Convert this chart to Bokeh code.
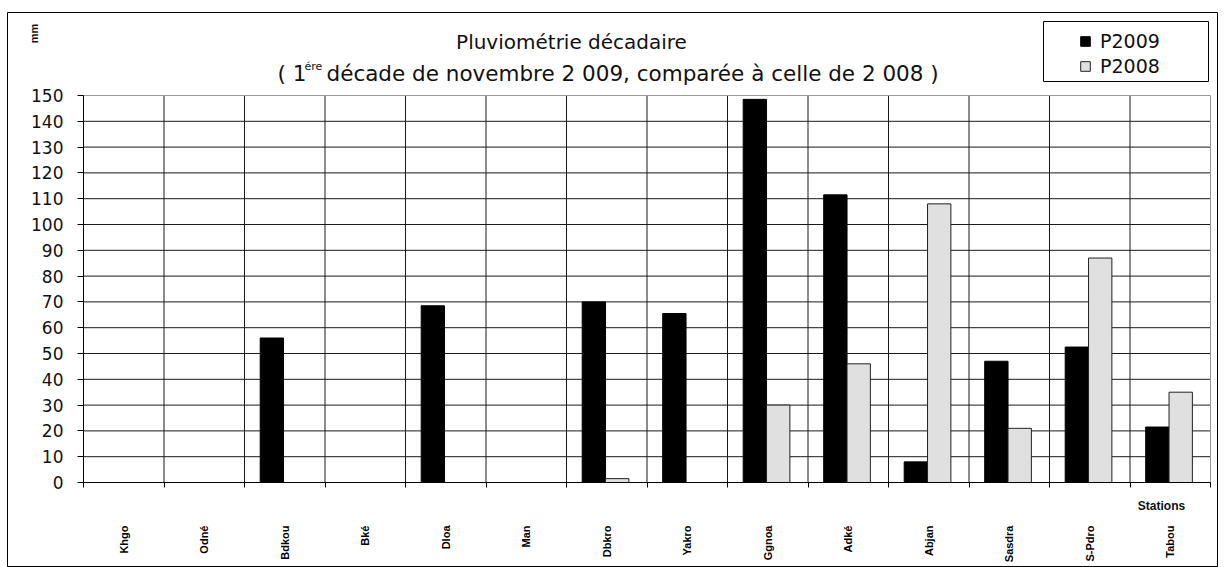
from bokeh.plotting import figure
from bokeh.models import (Range1d, FixedTicker, Label, Legend, LegendItem,
                          ColumnDataSource, BoxAnnotation)
from bokeh.transform import dodge
from bokeh.embed import file_html
from bokeh.resources import INLINE
import math

# ---- data ----
stations = ["Khgo", "Odné", "Bdkou", "Bké", "Dloa", "Man", "Dbkro", "Yakro",
            "Ggnoa", "Adké", "Abjan", "Sasdra", "S-Pdro", "Tabou"]
p2009 = [0, 0, 56, 0, 68.5, 0, 70, 65.5, 148.5, 111.5, 8, 47, 52.5, 21.5]
p2008 = [0, 0, 0, 0, 0, 0, 1.5, 0, 30, 46, 108, 21, 87, 35]
y_ticks = list(range(0, 151, 10))
series_names = ["P2009", "P2008"]

n = len(stations)
ymax = y_ticks[-1]
centers = [i + 0.5 for i in range(n)]
boundaries = list(range(n + 1))

# ---- layout (pixels) ----
W, H = 1219, 567
FL, FT, FR, FB = 7, 12, 1217, 567          # outer frame on the page
PL, PT, PR, PB = 83, 95, 1210, 482         # plot area on the page
xs = (PR - PL) / n
ys = (PB - PT) / ymax
x_range = Range1d(-(PL - FL) / xs, n + (FR - PR) / xs)
y_range = Range1d(-(FB - PB) / ys, ymax + (PT - FT) / ys)

FONT = "DejaVu Sans"
LFONT = "Liberation Sans"

p = figure(width=W, height=H, output_backend="svg", toolbar_location=None,
           x_range=x_range, y_range=y_range,
           min_border_left=FL, min_border_right=W - FR, min_border_top=FT,
           min_border_bottom=H - FB)
p.background_fill_color = "white"
p.border_fill_color = "white"
p.outline_line_color = "black"
p.outline_line_width = 1
p.grid.visible = False

# grid lines and plot-area border (drawn through the data scales)
inner_b = boundaries[1:-1]
inner_y = y_ticks[1:-1]
p.segment(x0=inner_b, y0=[0] * len(inner_b), x1=inner_b, y1=[ymax] * len(inner_b),
          line_color="#1a1a1a", line_width=1)
p.segment(x0=[0] * len(inner_y), y0=inner_y, x1=[n] * len(inner_y), y1=inner_y,
          line_color="#1a1a1a", line_width=1)
p.quad(left=[0], right=[n], bottom=[0], top=[ymax], fill_color=None,
       line_color="#999999", line_width=1)

src = ColumnDataSource(dict(x=centers, p2009=p2009, p2008=p2008))
r1 = p.vbar(x=dodge("x", -0.16, range=p.x_range), top="p2009", width=0.29,
            bottom=0, source=src, fill_color="black", line_color="black",
            line_width=1)
r2 = p.vbar(x=dodge("x", 0.13, range=p.x_range), top="p2008", width=0.29,
            bottom=0, source=src, fill_color="#e0e0e0", line_color="#222222",
            line_width=1)

# x axis
xa = p.xaxis[0]
xa.fixed_location = 0
xa.bounds = (0, n)
xa.ticker = FixedTicker(ticks=centers, minor_ticks=boundaries)
xa.major_label_overrides = {c: s for c, s in zip(centers, stations)}
xa.major_tick_out = 0
xa.major_tick_in = 0
xa.minor_tick_out = 5
xa.minor_tick_in = 0
xa.minor_tick_line_color = "black"
xa.axis_line_color = "black"
xa.major_label_orientation = math.pi / 2
xa.major_label_standoff = 38
xa.major_label_text_font = LFONT
xa.major_label_text_font_style = "bold"
xa.major_label_text_font_size = "11px"
xa.major_label_text_color = "black"

# y axis
ya = p.yaxis[0]
ya.fixed_location = 0
ya.bounds = (0, ymax)
ya.ticker = FixedTicker(ticks=y_ticks)
ya.major_tick_out = 6
ya.major_tick_in = 0
ya.minor_tick_out = 0
ya.minor_tick_in = 0
ya.axis_line_color = "black"
ya.major_tick_line_color = "black"
ya.major_label_standoff = 14
ya.major_label_text_font = FONT
ya.major_label_text_font_size = "17px"
ya.major_label_text_color = "#111111"

# legend box
p.add_layout(BoxAnnotation(left=1043 - FL, right=1208 - FL, top=FB - 21,
                           bottom=FB - 81, left_units="screen",
                           right_units="screen", top_units="screen",
                           bottom_units="screen", fill_color="white",
                           fill_alpha=1, line_color="black", line_width=1,
                           line_alpha=1))

# legend
legend = Legend(items=[LegendItem(label=series_names[0], renderers=[r1]),
                       LegendItem(label=series_names[1], renderers=[r2])],
                location=(1079 - FL, FB - 77))
legend.border_line_color = None
legend.background_fill_alpha = 0
legend.label_text_font = FONT
legend.label_text_font_size = "19px"
legend.label_text_color = "#111111"
legend.glyph_width = 12
legend.glyph_height = 12
legend.label_standoff = 9
legend.padding = 4
legend.spacing = 3
legend.margin = 0
p.add_layout(legend, "center")

# titles & labels (screen units relative to the frame)
def lab(text, px, py, size, font=FONT, style="normal", align="left", angle=0):
    p.add_layout(Label(x=px - FL, y=FB - py, x_units="screen", y_units="screen",
                       text=text, text_font=font, text_font_size=size,
                       text_font_style=style, text_align=align,
                       text_baseline="middle", angle=angle,
                       text_color="#111111"))

lab("Pluviométrie décadaire", 571, 41, "20px", align="center")
lab("( 1", 277, 73, "21.5px")
lab("ére", 304, 66, "11px")
lab("décade de novembre  2 009, comparée à celle de 2 008 )", 326, 73, "21.5px")
lab("mm", 33, 33, "11px", font=LFONT, style="bold", align="center",
    angle=math.pi / 2)
lab("Stations", 1161, 505, "12px", font=LFONT, style="bold", align="center")

open("out.html", "w").write(file_html(p, INLINE))
